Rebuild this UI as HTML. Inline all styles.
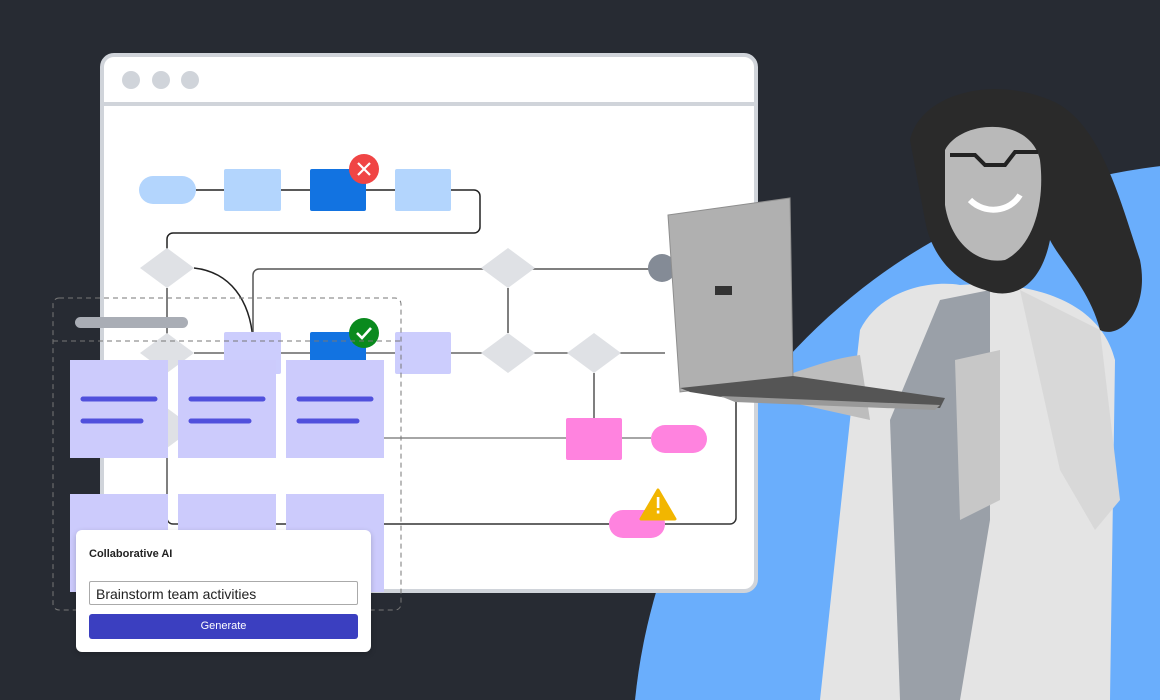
<!DOCTYPE html>
<html><head><style>
body{margin:0;width:1160px;height:700px;overflow:hidden;background:#272b33;font-family:"Liberation Sans",sans-serif}
</style></head><body>
<svg width="1160" height="700" viewBox="0 0 1160 700" xmlns="http://www.w3.org/2000/svg" style="position:absolute;left:0;top:0">
<circle cx="1230" cy="760" r="598" fill="#6aaefc"/>
<!-- window -->
<rect x="102" y="55" width="654" height="536" rx="12" fill="#fff" stroke="#d0d4da" stroke-width="4"/>
<line x1="102" y1="104" x2="756" y2="104" stroke="#d0d4da" stroke-width="4"/>
<circle cx="131" cy="80" r="9" fill="#d0d4da"/><circle cx="161" cy="80" r="9" fill="#d0d4da"/><circle cx="190" cy="80" r="9" fill="#d0d4da"/>
<!-- connectors -->
<g fill="none" stroke="#222" stroke-width="1.5">
<path d="M196 190H224M281 190H310M366 190H395M451 190H474a6 6 0 0 1 6 6V227a6 6 0 0 1-6 6H173a6 6 0 0 0-6 6V260"/>
<path d="M194 268C230 272 250 300 253 340"/>
<path d="M253 340V275a6 6 0 0 1 6-6H660" stroke="#555"/>
<path d="M167 288V525" stroke="#555"/>
<path d="M194 353H665" stroke="#666"/>
<path d="M508 288V333M594 373V418" stroke="#555"/>
<path d="M384 438H566M622 438H651" stroke="#888"/>
<path d="M167 518a6 6 0 0 0 6 6H609M665 524H730a6 6 0 0 0 6-6V395" stroke="#333"/>
</g>
<!-- row1 -->
<rect x="139" y="176" width="57" height="28" rx="14" fill="#b3d5fd"/>
<rect x="224" y="169" width="57" height="42" rx="2" fill="#b3d5fd"/>
<rect x="310" y="169" width="56" height="42" rx="2" fill="#1273e1"/>
<rect x="395" y="169" width="56" height="42" rx="2" fill="#b3d5fd"/>
<circle cx="364" cy="169" r="15" fill="#f04545"/>
<path d="M358 163L370 175M370 163L358 175" stroke="#fff" stroke-width="2.2"/>
<!-- diamonds -->
<g fill="#dfe1e5">
<path d="M167 248L194 268L167 288L140 268Z"/>
<path d="M508 248L535 268L508 288L481 268Z"/>
<path d="M167 333L194 353L167 373L140 353Z"/>
<path d="M508 333L535 353L508 373L481 353Z"/>
<path d="M594 333L621 353L594 373L567 353Z"/>
<path d="M167 408L194 428L167 448L140 428Z"/>
</g>
<circle cx="662" cy="268" r="14" fill="#848b96"/>
<rect x="224" y="332" width="57" height="42" rx="2" fill="#cccdfd"/>
<rect x="310" y="332" width="56" height="42" rx="2" fill="#1273e1"/>
<rect x="395" y="332" width="56" height="42" rx="2" fill="#cccdfd"/>
<circle cx="364" cy="333" r="15" fill="#0a8a1e"/>
<path d="M357 333L362 338L371 328" stroke="#fff" stroke-width="2.6" fill="none"/>
<rect x="566" y="418" width="56" height="42" rx="2" fill="#ff83df"/>
<rect x="651" y="425" width="56" height="28" rx="14" fill="#ff83df"/>
<rect x="609" y="510" width="56" height="28" rx="14" fill="#ff83df"/>
<path d="M658 490L675 519H641Z" fill="#f2b600" stroke="#f2b600" stroke-width="3" stroke-linejoin="round"/>
<rect x="656.8" y="497" width="2.6" height="11" fill="#fff"/><rect x="656.8" y="510.5" width="2.6" height="3" fill="#fff"/>
<!-- dashed selection -->
<rect x="53" y="298" width="348" height="312" rx="6" fill="none" stroke="#777" stroke-dasharray="5 4"/>
<line x1="53" y1="341" x2="401" y2="341" stroke="#777" stroke-dasharray="5 4"/>
<rect x="75" y="317" width="113" height="11" rx="5.5" fill="#a9adb5"/>
<!-- stickies -->
<g fill="#cccbfc">
<rect x="70" y="360" width="98" height="98"/><rect x="178" y="360" width="98" height="98"/><rect x="286" y="360" width="98" height="98"/>
<rect x="70" y="494" width="98" height="98"/><rect x="178" y="494" width="98" height="98"/><rect x="286" y="494" width="98" height="98"/>
</g>
<g stroke="#5050dc" stroke-width="5" stroke-linecap="round">
<path d="M83 399H155M83 421H141M191 399H263M191 421H249M299 399H371M299 421H357"/>
</g>
<!-- person approximations -->
<path d="M860 330C880 290 930 280 960 285C1030 280 1100 300 1115 360L1110 700H820L835 560L850 420Z" fill="#e4e4e4"/>
<path d="M940 300L990 290L990 520L960 700H900L890 420Z" fill="#9aa0a8"/>
<path d="M1020 290L1100 330L1120 500L1095 530L1060 470Z" fill="#d8d8d8"/>
<path d="M910 140C920 95 990 75 1050 100C1100 120 1120 200 1140 260C1150 310 1120 340 1100 330C1090 290 1060 260 1050 240C1040 290 1010 300 985 290C950 280 930 250 925 220Z" fill="#2a2a2a"/>
<path d="M945 150C960 120 1030 115 1040 160C1045 200 1035 245 1005 260C975 265 950 240 945 205Z" fill="#b9b9b9"/>
<path d="M950 155H975L985 165H1005L1015 152H1038" stroke="#222" stroke-width="4" fill="none"/>
<path d="M970 200C985 215 1010 212 1020 195" stroke="#fff" stroke-width="6" fill="none"/>
<path d="M955 360L1000 350L1000 500L960 520Z" fill="#c7c7c7"/>
<path d="M740 390C780 380 820 360 860 355L870 420L780 400Z" fill="#bdbdbd"/>
<!-- laptop -->
<path d="M668 215L790 198L793 378L680 392Z" fill="#b0b0b0" stroke="#8e8e8e"/>
<rect x="715" y="286" width="17" height="9" fill="#333"/>
<path d="M680 388L793 376L945 398L940 408L740 400L690 392Z" fill="#555"/>
<path d="M720 396L940 405L935 410L735 402Z" fill="#999"/>
</svg>
<div style="position:absolute;left:76px;top:530px;width:295px;height:122px;background:#fff;border-radius:6px;box-shadow:0 2px 6px rgba(0,0,0,.2)">
<div style="position:absolute;left:13px;top:18px;font-size:11px;font-weight:bold;color:#222">Collaborative AI</div>
<div style="position:absolute;left:13px;top:51px;width:267px;height:24px;border:1px solid #aaa;border-radius:2px;font-size:14px;line-height:24px;padding-left:6px;box-sizing:border-box;width:269px;color:#222">Brainstorm team activities</div>
<div style="position:absolute;left:13px;top:84px;width:269px;height:25px;background:#3b3fc0;border-radius:3px;color:#fff;font-size:11px;text-align:center;line-height:25px">Generate</div>
</div>
</body></html>
